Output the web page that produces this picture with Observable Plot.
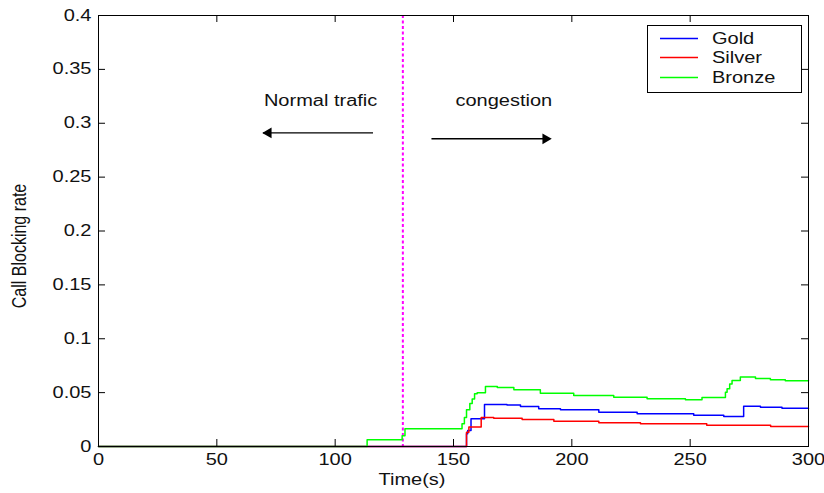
<!DOCTYPE html>
<html><head><meta charset="utf-8">
<script src="https://cdn.jsdelivr.net/npm/d3@7"></script>
<script src="https://cdn.jsdelivr.net/npm/@observablehq/plot@0.6"></script>
<style>
body{margin:0;background:#fff}
#chart{position:relative;width:824px;height:493px}
</style>
</head><body><div id="chart"></div>
<script>
// ---- data ----
const seriesNames = ["Gold", "Silver", "Bronze"];
const seriesColors = ["#0000ff", "#ff0000", "#00ff00"];

const goldTime = [0, 155.5, 156.0, 157.4, 163.1, 172.6, 178.3, 186.0, 195.2, 211.4, 227.6, 251.5, 264.2, 272.6, 279.7, 288.8, 300];
const goldRate = [0, 0.0118, 0.0149, 0.0257, 0.0390, 0.0385, 0.0371, 0.0350, 0.0340, 0.0318, 0.0303, 0.0290, 0.0279, 0.0374, 0.0365, 0.0356, 0.0356];

const silverTime = [0, 155.5, 156.5, 161.7, 167.0, 179.0, 192.4, 211.4, 229.0, 257.0, 284.0, 300];
const silverRate = [0, 0.0133, 0.0180, 0.0270, 0.0262, 0.0250, 0.0235, 0.0220, 0.0210, 0.0197, 0.0186, 0.0186];

const bronzeTime = [0, 113.5, 128.3, 129.5, 153.6, 154.6, 155.5, 156.9, 157.9, 158.9, 160.0, 163.5, 168.5, 175.5, 186.7, 200.8, 217.7, 231.8, 248.0, 255.0, 264.9, 265.6, 266.7, 267.7, 271.2, 277.6, 283.9, 290.2, 300];
const bronzeRate = [0, 0.0062, 0.0100, 0.0164, 0.0210, 0.0270, 0.0340, 0.0400, 0.0440, 0.0490, 0.0500, 0.0557, 0.0548, 0.0526, 0.0495, 0.0473, 0.0458, 0.0443, 0.0433, 0.0455, 0.0504, 0.0535, 0.0580, 0.0613, 0.0645, 0.0630, 0.0620, 0.0610, 0.0610];

const xTicks = [0, 50, 100, 150, 200, 250, 300];
const yTicks = [0, 0.05, 0.1, 0.15, 0.2, 0.25, 0.3, 0.35, 0.4];
const xTitle = "Time(s)";
const yTitle = "Call Blocking rate";

const boundaryTime = [128.6];
const notes = [
  {label: "Normal trafic", t: 69.9, r: 0.3204},
  {label: "congestion", t: 150.8, r: 0.3204}
];
const arrowsLeft = [{from: 116.2, to: 69.7, r: 0.291}];
const arrowsRight = [{from: 140.9, to: 191.0, r: 0.2856}];

// ---- table ----
const rows = [];
[[goldTime, goldRate], [silverTime, silverRate], [bronzeTime, bronzeRate]].forEach(([T, R], i) => {
  T.forEach((t, j) => rows.push({series: seriesNames[i], t, r: R[j]}));
});

const W = 824, H = 493, mL = 98, mR = 16, mT = 15, mB = 47;
const pw = W - mL - mR, ph = H - mT - mB, tk = 7;
const font = "'Liberation Sans', Arial, sans-serif";
const SX = 1.25;

const plot = Plot.plot({
  width: W, height: H,
  marginLeft: mL, marginRight: mR, marginTop: mT, marginBottom: mB,
  style: {fontFamily: font, fontSize: "16px", color: "#111", background: "#fff", overflow: "visible"},
  x: {domain: [0, 300]},
  y: {domain: [0, 0.4]},
  color: {domain: seriesNames, range: seriesColors},
  marks: [
    Plot.ruleX(boundaryTime, {x: d => d, stroke: "#ff00ff", strokeWidth: 2, strokeDasharray: "3,2.5"}),
    Plot.line(rows, {x: "t", y: "r", z: "series", stroke: "series", curve: "step-after", strokeWidth: 1.5}),
    Plot.frame({stroke: "#000", strokeWidth: 1}),
    Plot.tickX(xTicks, {x: d => d, insetTop: ph - tk, stroke: "#000"}),
    Plot.tickX(xTicks, {x: d => d, insetBottom: ph - tk, stroke: "#000"}),
    Plot.tickY(yTicks, {y: d => d, insetRight: pw - tk, stroke: "#000"}),
    Plot.tickY(yTicks, {y: d => d, insetLeft: pw - tk, stroke: "#000"}),
    Plot.axisX({ticks: xTicks, tickSize: 0, tickPadding: 7, label: null, tickFormat: d => String(d)}),
    Plot.axisY({ticks: yTicks, tickSize: 0, tickPadding: 7, label: null, tickFormat: d => String(+d.toFixed(2))}),
    Plot.text(notes, {x: "t", y: "r", text: "label", textAnchor: "start", lineAnchor: "middle", fill: "#111", fontSize: 16}),
    Plot.ruleY(arrowsLeft, {y: "r", x1: "from", x2: "to", stroke: "#000", strokeWidth: 1.3}),
    Plot.ruleY(arrowsRight, {y: "r", x1: "from", x2: "to", stroke: "#000", strokeWidth: 1.3}),
    Plot.dot(arrowsLeft, {x: "to", y: "r", symbol: "triangle", rotate: -90, r: 4, fill: "#000", stroke: "none", dx: 5}),
    Plot.dot(arrowsRight, {x: "to", y: "r", symbol: "triangle", rotate: 90, r: 4, fill: "#000", stroke: "none", dx: -5})
  ]
});

// stretch text horizontally like the reference rendering
d3.select(plot).selectAll("text").each(function() {
  const tr = this.getAttribute("transform") || "";
  this.setAttribute("transform", tr + ` scale(${SX},1)`);
});

const svg = d3.select(plot);
// axis titles
svg.append("text").attr("transform", `translate(412,485) scale(${SX},1)`)
  .attr("text-anchor", "middle").attr("font-family", font).attr("font-size", 16).attr("fill", "#111").text(xTitle);
svg.append("text").attr("transform", `translate(26,246) scale(${SX},1) rotate(-90)`)
  .attr("text-anchor", "middle").attr("font-family", font).attr("font-size", 16).attr("fill", "#111").text(yTitle);

// legend
const lg = svg.append("g");
lg.append("rect").attr("x", 647.5).attr("y", 25.5).attr("width", 154).attr("height", 67)
  .attr("fill", "#fff").attr("stroke", "#000").attr("stroke-width", 1);
const lgY = [38.5, 57.5, 77.5];
seriesNames.forEach((name, i) => {
  lg.append("line").attr("x1", 660).attr("x2", 698).attr("y1", lgY[i]).attr("y2", lgY[i])
    .attr("stroke", seriesColors[i]).attr("stroke-width", 1.5);
  lg.append("text").attr("transform", `translate(712,${lgY[i] + 5.8}) scale(${SX},1)`)
    .attr("text-anchor", "start")
    .attr("font-family", font).attr("font-size", 16).attr("fill", "#111").text(name);
});

document.getElementById("chart").appendChild(plot);
</script>
</body></html>
